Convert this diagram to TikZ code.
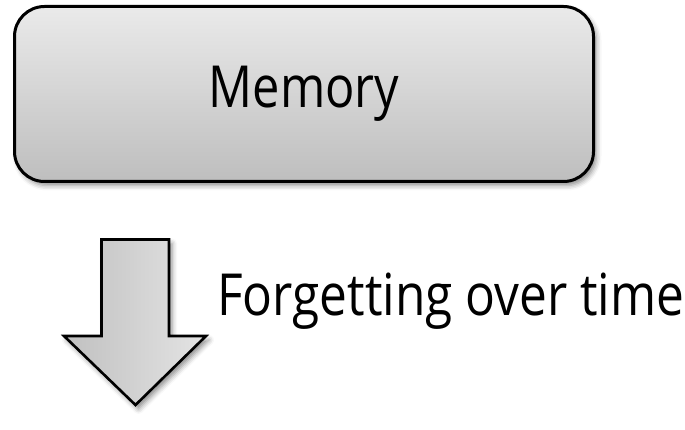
\documentclass[tikz,border=0pt]{standalone}
\usepackage{fontspec}
\setmainfont{Open Sans}[FakeStretch=0.84]
\newfontfamily\capfont{Open Sans}[FakeStretch=0.855]
\usetikzlibrary{shadows.blur}
\definecolor{boxtop}{RGB}{234,234,234}
\definecolor{boxbot}{RGB}{190,190,190}
\definecolor{arrl}{RGB}{192,192,192}
\definecolor{arrr}{RGB}{228,228,228}
\tikzset{
  membox/.style={draw=black, line width=3pt, rounded corners=30pt,
    top color=boxtop, bottom color=boxbot,
    minimum width=579pt, minimum height=175pt, inner sep=0pt,
    font=\fontsize{58}{60}\selectfont,
    blur shadow={shadow xshift=3pt, shadow yshift=-4pt, shadow blur radius=5pt, shadow opacity=45}},
  downarrow/.style={draw=black, line width=2.6pt, line join=miter,
    left color=arrl, right color=arrr,
    blur shadow={shadow xshift=3pt, shadow yshift=-4pt, shadow blur radius=5pt, shadow opacity=45}},
  caption/.style={inner sep=0pt, anchor=base west, font=\capfont\fontsize{58}{60}\selectfont}
}
\begin{document}
\begin{tikzpicture}[x=1pt,y=1pt]
\useasboundingbox (0,0) rectangle (685,429);
\node[membox] (mem) at (304,335) {\raisebox{-6pt}{Memory}};
\draw[downarrow] (101.5,189.5) -- (169,189.5) -- (169,93) -- (206,93) -- (135.5,24) -- (64,93) -- (101.5,93) -- cycle;
\coordinate (tip) at (135.5,24);
\node[caption] (forget) at (217,114) {Forgetting over time};
\end{tikzpicture}
\end{document}
